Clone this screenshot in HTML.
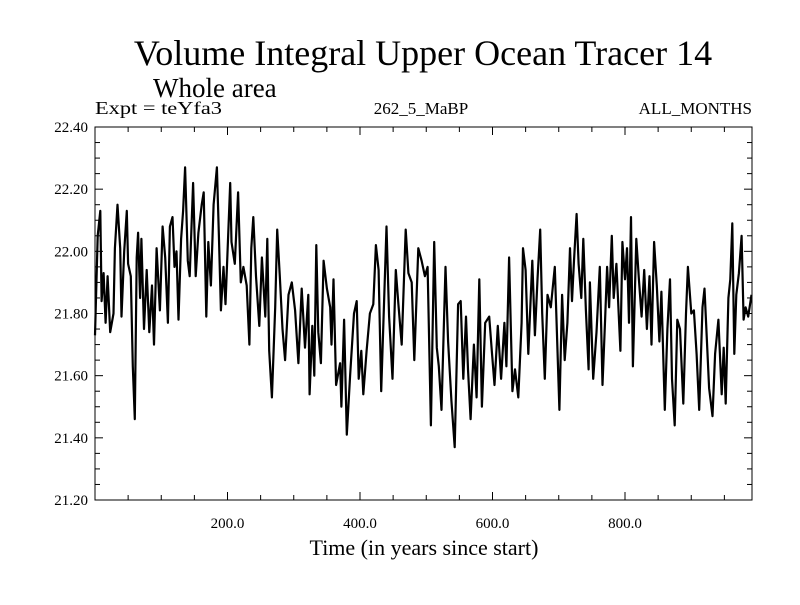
<!DOCTYPE html>
<html><head><meta charset="utf-8"><style>
body{margin:0;background:#fff;}
svg text{font-family:"Liberation Serif",serif;fill:#000;}
</style></head><body>
<svg id="chart" width="800" height="600" xmlns="http://www.w3.org/2000/svg">
<rect width="800" height="600" fill="#fff"/>
<text x="423" y="65" font-size="36" text-anchor="middle">Volume Integral Upper Ocean Tracer 14</text>
<text x="153" y="97" font-size="27">Whole area</text>
<text x="95" y="114" font-size="18" textLength="127" lengthAdjust="spacingAndGlyphs">Expt = teYfa3</text>
<text x="421" y="114" font-size="17" text-anchor="middle">262_5_MaBP</text>
<text x="752" y="114" font-size="17" text-anchor="end">ALL_MONTHS</text>
<text x="424" y="555" font-size="22" text-anchor="middle">Time (in years since start)</text>
<g id="axes"></g>
<path id="series" fill="none" stroke="#000" stroke-width="2.2" stroke-linejoin="round"/>
<rect x="95" y="127" width="657" height="373" fill="none" stroke="#000" stroke-width="1"/>
</svg>
<script>
const years=[0,4,8,10,13,16,19,23,28,30,34,38,40,44,48,50,54,57,60,63,65,68,70,74,78,82,86,89,93,98,102,106,110,113,117,120,123,126,130,133,136,140,143,148,152,156,161,164,168,171,175,179,184,187,190,194,197,204,206,211,216,220,224,229,233,236,239,243,248,252,
257,260,263,267,272,275,279,283,287,292,297,302,307,312,317,322,324,328,331,334,337,341,345,350,355,357,360,364,370,372,376,380,385,391,395,398,402,405,410,415,420,424,428,432,438,440,444,449,454,458,463,469,473,478,482,488,493,
498,502,507,512,516,519,523,529,533,538,543,548,552,556,560,563,567,572,576,580,584,589,595,599,603,608,613,618,621,625,630,634,639,644,646,650,654,660,664,668,672,675,679,683,688,694,701,705,709,713,717,720,723,727,730,734,737,741,745,
747,752,757,762,766,770,773,776,780,783,787,793,796,800,803,806,809,812,817,821,825,829,833,837,840,844,848,852,855,860,864,868,871,875,879,883,888,892,895,900,904,908,912,917,920,927,932,936,941,946,949,952,956,959,962,965,968,972,976,979,982,986,991];
const values=[21.73,22.05,22.13,21.84,21.93,21.77,21.92,21.74,21.80,22.01,22.15,22.01,21.79,22.00,22.13,21.96,21.92,21.63,21.46,21.98,22.06,21.85,22.04,21.75,21.94,21.74,21.89,21.70,22.01,21.81,22.08,21.98,21.77,22.08,22.11,21.95,22.00,21.78,22.04,22.13,22.27,21.97,21.92,22.22,21.92,22.06,22.15,22.19,21.79,22.03,21.89,22.15,22.27,22.05,21.81,21.95,21.83,22.22,22.03,21.96,22.19,21.90,21.95,21.89,21.70,22.01,22.11,21.92,21.76,21.98,
21.79,22.04,21.68,21.53,21.82,22.07,21.92,21.75,21.65,21.86,21.90,21.81,21.64,21.88,21.69,21.86,21.54,21.76,21.60,22.02,21.74,21.64,21.97,21.88,21.82,21.70,21.91,21.57,21.64,21.50,21.78,21.41,21.60,21.80,21.84,21.59,21.68,21.54,21.68,21.80,21.83,22.02,21.94,21.55,21.95,22.08,21.79,21.59,21.94,21.83,21.70,22.07,21.93,21.90,21.65,22.01,21.97,
21.92,21.95,21.44,22.03,21.69,21.63,21.49,21.95,21.71,21.52,21.37,21.83,21.84,21.59,21.79,21.62,21.46,21.70,21.53,21.91,21.50,21.77,21.79,21.68,21.57,21.76,21.59,21.77,21.63,21.98,21.55,21.62,21.53,21.77,22.01,21.94,21.67,21.97,21.73,21.91,22.07,21.80,21.59,21.86,21.82,21.95,21.49,21.86,21.65,21.77,22.01,21.84,21.97,22.12,21.96,21.85,22.04,21.81,21.62,
21.90,21.59,21.74,21.95,21.57,21.78,21.95,21.82,22.05,21.85,21.96,21.68,22.03,21.91,22.01,21.77,22.11,21.63,22.04,21.91,21.79,21.94,21.75,21.92,21.70,22.03,21.89,21.71,21.87,21.49,21.75,21.91,21.59,21.44,21.78,21.75,21.51,21.80,21.95,21.80,21.81,21.67,21.49,21.82,21.88,21.56,21.47,21.67,21.78,21.54,21.69,21.51,21.85,21.91,22.09,21.67,21.86,21.93,22.05,21.78,21.82,21.79,21.86];
const yTicks=[21.20,21.40,21.60,21.80,22.00,22.20,22.40];
const xTicks=[200,400,600,800];
const X0=95,X1=752,Y0=500,Y1=127,XMAX=(X1-X0)/0.6625;
const sx=v=>X0+(v/XMAX)*(X1-X0);
const sy=v=>Y0-(v-21.2)/1.2*(Y0-Y1);
const NS="http://www.w3.org/2000/svg";
const axes=document.getElementById('axes');
function line(x1,y1,x2,y2,name){const l=document.createElementNS(NS,'line');
l.setAttribute('x1',x1);l.setAttribute('y1',y1);l.setAttribute('x2',x2);l.setAttribute('y2',y2);
l.setAttribute('stroke','#000');l.setAttribute('stroke-width','1');


axes.appendChild(l);}
for(let v=21.2;v<=22.401;v+=0.05){const y=sy(v);const major=Math.abs((v-21.2)/0.2-Math.round((v-21.2)/0.2))<0.01;const L=major?8:5;
line(X0,y,X0+L,y,'y-tick');line(X1,y,X1-L,y,'y-tick-right');}
for(let v=50;v<XMAX;v+=50){const x=sx(v);const L=(v%200===0)?8:5;line(x,Y0,x,Y0-L,'x-tick');line(x,Y1,x,Y1+L,'x-tick-top');}
yTicks.forEach(v=>{const t=document.createElementNS(NS,'text');t.setAttribute('x',88);t.setAttribute('y',sy(v)+5);
t.setAttribute('font-size','15');t.setAttribute('text-anchor','end');t.textContent=v.toFixed(2);


axes.appendChild(t);});
xTicks.forEach(v=>{const t=document.createElementNS(NS,'text');t.setAttribute('x',sx(v));t.setAttribute('y',528);
t.setAttribute('font-size','15');t.setAttribute('text-anchor','middle');t.textContent=v.toFixed(1);


axes.appendChild(t);});
document.getElementById('series').setAttribute('d',years.map((yr,i)=>(i?'L':'M')+sx(yr).toFixed(1)+','+sy(values[i]).toFixed(1)).join(''));
</script>
</body></html>
